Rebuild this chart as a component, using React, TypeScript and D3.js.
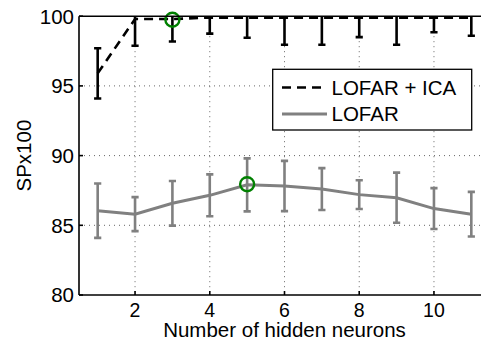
import * as d3 from 'd3';

// hidden neurons on the x axis
const neurons = [1, 2, 3, 4, 5, 6, 7, 8, 9, 10, 11];

// LOFAR + ICA (dashed black) mean and half error
const icaMean = [95.9, 99.8, 99.8, 99.9, 99.9, 99.9, 99.9, 99.9, 99.9, 99.9, 99.9];
const icaErr = [1.8, 1.92, 1.62, 1.15, 1.45, 1.95, 1.95, 1.4, 1.95, 1.05, 1.3];

// LOFAR (solid grey) mean and half error
const lofarMean = [86.05, 85.8, 86.58, 87.15, 87.9, 87.82, 87.6, 87.2, 86.98, 86.2, 85.8];
const lofarErr = [1.95, 1.22, 1.6, 1.5, 1.9, 1.8, 1.5, 1.03, 1.8, 1.47, 1.6];

// best points (green circles)
const bestPoints = [
  { x: 3, y: 99.75 },
  { x: 5, y: 87.95 },
];

const xTicks = [2, 4, 6, 8, 10];
const yTicks = [80, 85, 90, 95, 100];

const W = 481;
const H = 340;
const left = 79;
const right = 490; // axes run past the picture edge
const top = 16.2;
const bottom = 295;
const font = '"Liberation Sans", Arial, Helvetica, sans-serif';
const fs = 20.5;
const tickFs = 19.5;
const grey = '#808080';

export default function App() {
  const x = d3.scaleLinear().domain([0.5, 11.5]).range([left, right]);
  const y = d3.scaleLinear().domain([80, 100]).range([bottom, top]);

  const line = d3
    .line<number>()
    .x((_, i) => x(neurons[i]))
    .y(d => y(d));

  const cap = 3.6;

  const errorBars = (mean: number[], err: number[], color: string, key: string) =>
    neurons.map((n, i) => {
      const cx = x(n);
      const y1 = y(mean[i] + err[i]);
      const y2 = y(mean[i] - err[i]);
      return (
        <g key={key + n} stroke={color} strokeWidth={2.6}>
          <line x1={cx} x2={cx} y1={y1} y2={y2} />
          <line x1={cx - cap} x2={cx + cap} y1={y1} y2={y1} />
          <line x1={cx - cap} x2={cx + cap} y1={y2} y2={y2} />
        </g>
      );
    });

  return (
    <svg
      width={W}
      height={H}
      style={{ position: 'absolute', left: 0, top: 0, background: '#fff' }}
      fontFamily={font}
    >
      <defs>
        <clipPath id="plot">
          <rect x={left} y={top} width={right - left} height={bottom - top} />
        </clipPath>
      </defs>

      {/* grid */}
      <g stroke="#666" strokeWidth={1} strokeDasharray="1,4">
        {xTicks.map(t => (
          <line key={'gx' + t} x1={x(t)} x2={x(t)} y1={top} y2={bottom} />
        ))}
        {yTicks.slice(1, -1).map(t => (
          <line key={'gy' + t} x1={left} x2={right} y1={y(t)} y2={y(t)} />
        ))}
      </g>

      {/* data */}
      <g clipPath="url(#plot)">
        <path d={line(lofarMean) || ''} fill="none" stroke={grey} strokeWidth={3} />
        {errorBars(lofarMean, lofarErr, grey, 'l')}
        <path
          d={line(icaMean) || ''}
          fill="none"
          stroke="#000"
          strokeWidth={2.6}
          strokeDasharray="9,6"
        />
        {errorBars(icaMean, icaErr, '#000', 'i')}
      </g>

      {bestPoints.map(p => (
        <circle
          key={'b' + p.x}
          cx={x(p.x)}
          cy={y(p.y)}
          r={7}
          fill="none"
          stroke="#008000"
          strokeWidth={2.4}
        />
      ))}

      {/* axes box */}
      <g stroke="#000" strokeWidth={1.6} fill="none">
        <line x1={left} x2={right} y1={top} y2={top} />
        <line x1={left} x2={right} y1={bottom} y2={bottom} />
        <line x1={left} x2={left} y1={top} y2={bottom} />
        {xTicks.map(t => (
          <g key={'tx' + t}>
            <line x1={x(t)} x2={x(t)} y1={bottom} y2={bottom - 4} />
            <line x1={x(t)} x2={x(t)} y1={top} y2={top + 4} />
          </g>
        ))}
        {yTicks.map(t => (
          <line key={'ty' + t} x1={left} x2={left + 4} y1={y(t)} y2={y(t)} />
        ))}
      </g>

      {/* tick labels */}
      <g fill="#000">
        {yTicks.map(t => (
          <text key={'ly' + t} x={left - 5} y={y(t)} dy="0.36em" textAnchor="end" fontSize={fs}>
            {t}
          </text>
        ))}
        {xTicks.map(t => (
          <text key={'lx' + t} x={x(t)} y={317} textAnchor="middle" fontSize={tickFs}>
            {t}
          </text>
        ))}
        <text x={(left + right) / 2} y={337} textAnchor="middle" fontSize={fs}>
          Number of hidden neurons
        </text>
        <text
          transform={`translate(31,${(top + bottom) / 2}) rotate(-90)`}
          textAnchor="middle"
          fontSize={fs}
        >
          SPx100
        </text>
      </g>

      {/* legend */}
      <g>
        <rect x={272.7} y={69.3} width={199} height={60.7} fill="#fff" stroke="#000" strokeWidth={1.3} />
        <line x1={282} x2={327} y1={87.5} y2={87.5} stroke="#000" strokeWidth={2.6} strokeDasharray="9,6" />
        <line x1={282} x2={327} y1={114} y2={114} stroke={grey} strokeWidth={3} />
        <text x={331.5} y={87.5} dy="0.36em" fontSize={fs}>
          LOFAR + ICA
        </text>
        <text x={331.5} y={114} dy="0.36em" fontSize={fs}>
          LOFAR
        </text>
      </g>
    </svg>
  );
}
